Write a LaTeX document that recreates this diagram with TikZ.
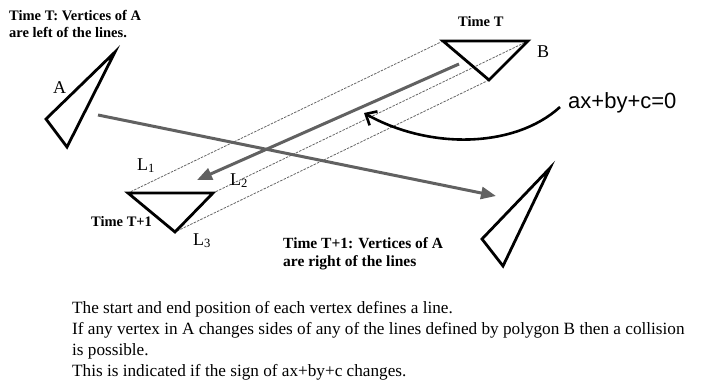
\documentclass[tikz,border=0pt]{standalone}
\usepackage{fontspec}
\setmainfont{Liberation Serif}
\newfontfamily\eqfont{Liberation Sans}
\usetikzlibrary{arrows.meta}
\begin{document}
\begin{tikzpicture}[x=1pt,y=-1pt,
  tri/.style={draw=black,line width=2.8pt,line join=miter},
  trail/.style={draw=black!60,line width=0.8pt,dash pattern=on 2.5pt off 1.2pt},
  motion/.style={draw=black!62,line width=3pt,-{Triangle[length=15pt,width=12pt]}},
  boldlbl/.style={inner sep=0pt,anchor=base west,font=\fontsize{14.5}{17}\selectfont\bfseries},
  boldlblb/.style={inner sep=0pt,anchor=base west,font=\fontsize{15.5}{18}\selectfont\bfseries},
  namelbl/.style={inner sep=0pt,anchor=base west,font=\fontsize{18}{20}\selectfont},
  bodytxt/.style={inner sep=0pt,anchor=base west,font=\fontsize{17.2}{20}\selectfont},
]
\useasboundingbox (0,0) rectangle (704,391);

% polygon A at time T and T+1
\coordinate (a1) at (115,52);
\coordinate (a2) at (46,119);
\coordinate (a3) at (67,147);
\coordinate (c1) at (550,168);
\coordinate (c2) at (482,239);
\coordinate (c3) at (503,266);
% polygon B at time T and T+1
\coordinate (b1) at (443,41);
\coordinate (b2) at (528,41);
\coordinate (b3) at (489,80);
\coordinate (d1) at (128,193);
\coordinate (d2) at (213,193);
\coordinate (d3) at (175,232);

% swept lines
\draw[trail] (b1) -- (d1);
\draw[trail] (b2) -- (d2);
\draw[trail] (b3) -- (d3);

% motion arrows
\coordinate (mA0) at (98,115);
\coordinate (mA1) at (496,196);
\coordinate (mB0) at (459,64);
\coordinate (mB1) at (197,180);
\draw[motion] (mA0) -- (mA1);
\draw[motion] (mB0) -- (mB1);

% triangles
\draw[tri] (a1) -- (a2) -- (a3) -- cycle;
\draw[tri] (c1) -- (c2) -- (c3) -- cycle;
\draw[tri] (b1) -- (b2) -- (b3) -- cycle;
\draw[tri] (d1) -- (d2) -- (d3) -- cycle;

% labels
\node[boldlbl] (tl1) at (9,20) {Time T: Vertices of A};
\node[boldlbl] (tl2) at (9,37) {are left of the lines.};
\node[boldlbl] (tT) at (458,26) {Time T};
\node[boldlbl] (tT1) at (91,226) {Time T+1};
\node[boldlblb] (br1) at (283,248) {Time T+1: Vertices of A};
\node[boldlblb] (br2) at (283,266) {are right of the lines};
\node[namelbl] (lA) at (53,93) {A};
\node[namelbl] (lB) at (537,57) {B};
\node[namelbl] (L1) at (137,170) {L\textsubscript{1}};
\node[namelbl] (L2) at (230,185) {L\textsubscript{2}};
\node[namelbl] (L3) at (193,245) {L\textsubscript{3}};
\node[inner sep=0pt,anchor=base west,font=\eqfont\fontsize{22}{24}\selectfont] (eq) at (568,108) {ax+by+c=0};

% curved pointer
\coordinate (cp0) at (560,107);
\coordinate (cp1) at (364,113);
\draw[line width=2.6pt,-{Straight Barb[length=9pt,width=16pt]}] (cp0) .. controls (515,148) and (430,150) .. (cp1);

% body text
\node[bodytxt] (t1) at (72,313) {The start and end position of each vertex defines a line.};
\node[bodytxt] (t2) at (72,334) {If any vertex in A changes sides of any of the lines defined by polygon B then a collision};
\node[bodytxt] (t3) at (72,355) {is possible.};
\node[bodytxt] (t4) at (72,376) {This is indicated if the sign of ax+by+c changes.};
\end{tikzpicture}
\end{document}
